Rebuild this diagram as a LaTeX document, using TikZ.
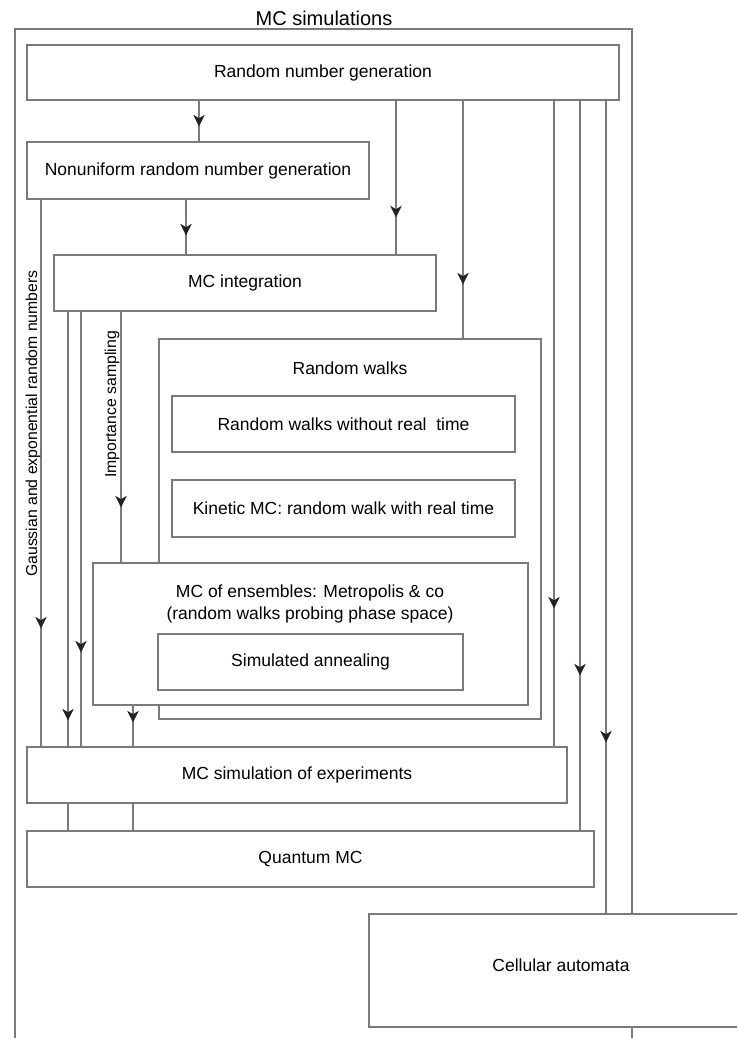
\documentclass[tikz,border=0pt]{standalone}
\usepackage{fontspec}
\setmainfont{Liberation Sans}
\usetikzlibrary{arrows.meta,decorations.markings}
\definecolor{linegray}{HTML}{7A7A7A}
\definecolor{tipgray}{HTML}{222222}
\begin{document}
\begin{tikzpicture}[x=1pt,y=-1pt,
  box/.style={draw=linegray,line width=1.2pt,fill=white,inner sep=0pt,
    font=\fontsize{17.5}{22}\selectfont,align=center},
  txt/.style={inner sep=0pt,font=\fontsize{17.5}{22}\selectfont,align=center},
  conn/.style={draw=linegray,line width=1.2pt},
  arrowat/.style={postaction={decorate,decoration={markings,
    mark=at position #1 with {\filldraw[tipgray,line width=0.6pt,line join=miter] (0pt,0pt) -- (-10pt,5pt) -- (-7pt,0pt) -- (-10pt,-5pt) -- cycle;}}}},
  lbl/.style={font=\fontsize{15.8}{18}\selectfont,rotate=90,inner sep=0pt}]
\useasboundingbox (0,0) rectangle (737,1038);
\clip (0,0) rectangle (737,1038);
% outer frame
\coordinate (ftl) at (15,29);
\coordinate (ftr) at (632,29);
\coordinate (fbl) at (15,1060);
\coordinate (fbr) at (632,1060);
\draw[conn] (fbl) -- (ftl) -- (ftr) -- (fbr);
\node[font=\fontsize{20}{24}\selectfont] (title) at (324,18) {MC simulations};
% boxes
\node[box,minimum width=592pt,minimum height=55pt] (rng) at (323,72.5) {Random number generation};
\node[box,minimum width=342pt,minimum height=57pt] (nug) at (198,170.5) {Nonuniform random number generation};
\node[box,minimum width=382pt,minimum height=56pt] (mci) at (245,283) {MC integration};
\node[box,minimum width=382pt,minimum height=380pt] (rw) at (350,529) {};
\node[txt] (rwlabel) at (350,368) {Random walks};
\node[box,minimum width=343pt,minimum height=56pt] (rwn) at (343.5,424) {Random walks without real\ \ time};
\node[box,minimum width=343pt,minimum height=57pt] (kin) at (343.5,508.5) {Kinetic MC: random walk with real time};
\node[box,minimum width=435pt,minimum height=142pt] (mce) at (310.5,634) {};
\node[txt] (mcelabel) at (310,604) {MC of ensembles: Metropolis \& co\\(random walks probing phase space)};
\node[box,minimum width=305pt,minimum height=56pt] (sa) at (310.5,662) {Simulated annealing};
\node[box,minimum width=540pt,minimum height=56pt] (mcse) at (297,775) {MC simulation of experiments};
\node[box,minimum width=567pt,minimum height=56pt] (qmc) at (310.5,859) {Quantum MC};
\node[box,minimum width=384pt,minimum height=113pt] (ca) at (561,970.5) {};
\node[txt] (calabel) at (561,965) {Cellular automata};
% connectors
\draw[conn,arrowat=25pt] (199,0 |- rng.south) -- (199,0 |- nug.north);
\draw[conn,arrowat=116pt] (396,0 |- rng.south) -- (396,0 |- mci.north);
\draw[conn,arrowat=183pt] (463,0 |- rng.south) -- (463,0 |- rw.north);
\draw[conn,arrowat=507pt] (554,0 |- rng.south) -- (554,0 |- mcse.north);
\draw[conn,arrowat=574pt] (580,0 |- rng.south) -- (580,0 |- qmc.north);
\draw[conn,arrowat=641pt] (606,0 |- rng.south) -- (606,0 |- ca.north);
\draw[conn,arrowat=35pt] (186,0 |- nug.south) -- (186,0 |- mci.north);
\draw[conn,arrowat=428pt] (41,0 |- nug.south) -- (41,0 |- mcse.north);
\draw[conn,arrowat=408pt] (68,0 |- mci.south) -- (68,0 |- mcse.north);
\draw[conn,arrowat=340pt] (81,0 |- mci.south) -- (81,0 |- mcse.north);
\draw[conn,arrowat=195pt] (121,0 |- mci.south) -- (121,0 |- mce.north);
\draw[conn,arrowat=16pt] (133,0 |- mce.south) -- (133,0 |- mcse.north);
\draw[conn] (68,0 |- mcse.south) -- (68,0 |- qmc.north);
\draw[conn] (133,0 |- mcse.south) -- (133,0 |- qmc.north);
% edge labels
\node[lbl,anchor=west] (glabel) at (33,577) {Gaussian and exponential random numbers};
\node[lbl,anchor=west] (islabel) at (112,478) {Importance sampling};
\end{tikzpicture}
\end{document}
